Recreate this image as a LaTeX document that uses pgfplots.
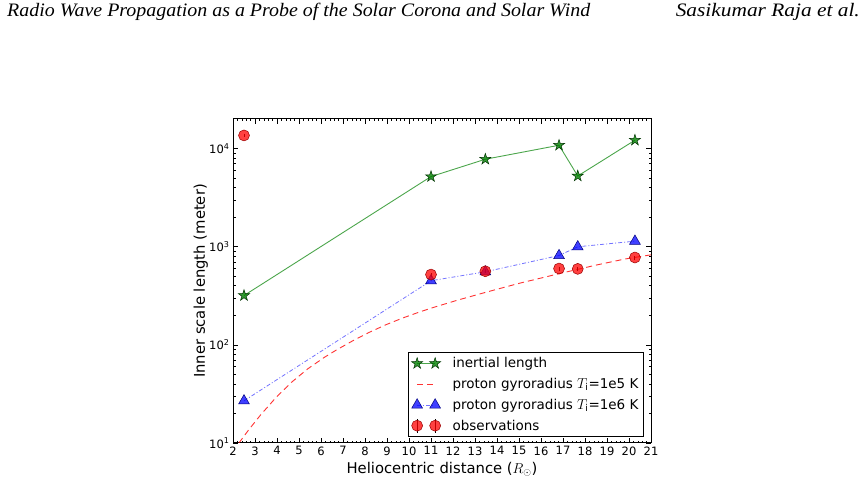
\documentclass[border=0pt]{standalone}
\usepackage{pgfplots}
\pgfplotsset{compat=1.18}
\usepackage{graphicx}
\usepackage{fontspec}
\setmainfont{DejaVu Sans}
\newfontfamily\headfont{Liberation Serif}

% filled five-pointed star
\pgfdeclareplotmark{fstar}{%
  \pgfpathmoveto{\pgfpointpolar{90}{\pgfplotmarksize}}%
  \pgfpathlineto{\pgfpointpolar{126}{0.382\pgfplotmarksize}}%
  \pgfpathlineto{\pgfpointpolar{162}{\pgfplotmarksize}}%
  \pgfpathlineto{\pgfpointpolar{198}{0.382\pgfplotmarksize}}%
  \pgfpathlineto{\pgfpointpolar{234}{\pgfplotmarksize}}%
  \pgfpathlineto{\pgfpointpolar{270}{0.382\pgfplotmarksize}}%
  \pgfpathlineto{\pgfpointpolar{306}{\pgfplotmarksize}}%
  \pgfpathlineto{\pgfpointpolar{342}{0.382\pgfplotmarksize}}%
  \pgfpathlineto{\pgfpointpolar{18}{\pgfplotmarksize}}%
  \pgfpathlineto{\pgfpointpolar{54}{0.382\pgfplotmarksize}}%
  \pgfpathclose
  \pgfusepathqfillstroke
}

\definecolor{mgreen}{rgb}{0,0.5,0}
\definecolor{mred}{rgb}{1,0,0}
\definecolor{mblue}{rgb}{0,0,1}

\pgfplotsset{
  two marks legend/.style={legend image code/.code={%
    \draw[##1] plot coordinates {(0bp,0bp) (18bp,0bp)};
    \path (-4bp,0bp) (33bp,0bp);}},
  short line legend/.style={legend image code/.code={%
    \draw[##1] (0bp,0bp) -- (18bp,0bp);
    \path (-4bp,0bp) (33bp,0bp);}},
  errorbar legend/.style={legend image code/.code={%
    \draw[black, line width=1bp] (0bp,-7bp) -- (0bp,7bp) (18bp,-7bp) -- (18bp,7bp);
    \draw[##1] plot coordinates {(0bp,0bp) (18bp,0bp)};
    \path (-4bp,0bp) (33bp,0bp);}},
}

% inertial length (m)
\pgfplotstableread{
r     L
2.5   318
11.0  5180
13.47 7780
16.82 10800
17.67 5250
20.27 12160
}\inertial

% proton gyroradius, T_i = 1e5 K
\pgfplotstableread{
r     L
2.27  10
2.7   13.5
3.27  19.5
3.95  29.0
4.64  41.2
5.39  56.8
6.15  74.5
6.68  88.1
7.44  109.9
8.2   134.3
8.95  160.3
9.71  187.5
10.47 215.8
11.08 239.3
12.2  285
13.5  343.6
15.0  423
16.82 530.9
18.5  649
19.8  748
21.0  826
}\gyrolow

% proton gyroradius, T_i = 1e6 K
\pgfplotstableread{
r     L
2.5   26.9
11.0  450
13.47 555
16.82 813
17.67 998
20.27 1138
}\gyrohigh

% observed inner scale
\pgfplotstableread{
r     L      e
2.5   13600  600
11.0  520    24
13.47 562    26
16.82 599    28
17.67 594    28
20.27 776    36
}\observed

\begin{document}
\begin{tikzpicture}[x=1bp,y=1bp]
\path (0,0) rectangle (868,485);
\node[anchor=base west, inner sep=0] at (7,468)
  {\resizebox{583bp}{\height}{\headfont\itshape\fontsize{19bp}{22bp}\selectfont Radio Wave Propagation as a Probe of the Solar Corona and Solar Wind}};
\node[anchor=base east, inner sep=0] at (860,468)
  {\resizebox{184bp}{\height}{\headfont\itshape\fontsize{19bp}{22bp}\selectfont Sasikumar Raja et al.}};
\begin{axis}[
  at={(233bp,42bp)}, anchor=south west,
  width=418bp, height=324bp, scale only axis,
  xmin=2, xmax=21, ymin=10, ymax=20000,
  ymode=log,
  xtick={2,...,21},
  minor x tick num=4,
  ytick={10,100,1000,10000},
  yticklabels={10\textsuperscript{1},10\textsuperscript{2},10\textsuperscript{3},10\textsuperscript{4}},
  tick align=inside,
  major tick length=5bp, minor tick length=2.5bp,
  every tick/.style={black, line width=0.6bp},
  axis line style={line width=1bp},
  /pgf/number format/assume math mode=true,
  ticklabel style={font=\fontsize{11.5bp}{13bp}\selectfont},
  xlabel={Heliocentric distance ($R_\odot$)},
  ylabel={Inner scale length (meter)},
  label style={font=\fontsize{14.8bp}{17bp}\selectfont},
  xlabel style={at={(axis description cs:0.5,-0.0586)}, anchor=north, inner sep=0},
  ylabel style={at={(axis description cs:-0.067,0.5)}, anchor=base, inner sep=0},
  legend cell align=left,
  legend style={at={(axis description cs:0.983,0.0185)}, anchor=south east,
    draw=black, line width=0.9bp, font=\fontsize{13.5bp}{16bp}\selectfont,
    inner xsep=3bp, inner ysep=3bp, row sep=5bp},
]
\addplot[mgreen!70!white, line width=0.9bp, mark=fstar, mark size=5.8bp,
  mark options={fill=mgreen, draw=black!60!mgreen, line width=0.5bp, fill opacity=0.8},
  two marks legend]
  table[x=r, y=L] {\inertial};
\addlegendentry{inertial length}

\addplot[mred, opacity=0.8, line width=0.9bp, dash pattern=on 6bp off 4bp, no marks,
  short line legend]
  table[x=r, y=L] {\gyrolow};
\addlegendentry{proton gyroradius $T_\mathrm{i}$=1e5 K}

\addplot[mblue!55!white, line width=0.8bp, dash pattern=on 4bp off 2bp on 1bp off 2bp,
  mark=triangle*, mark size=6.2bp,
  mark options={solid, fill=mblue, fill opacity=0.75, draw=black!50!mblue, line width=0.5bp},
  two marks legend]
  table[x=r, y=L] {\gyrohigh};
\addlegendentry{proton gyroradius $T_\mathrm{i}$=1e6 K}

\addplot[only marks, mark=*, mark size=5.5bp,
  mark options={fill=mred, fill opacity=0.75, draw=black!40!mred, line width=0.5bp},
  errorbar legend,
  error bars/.cd, y dir=both, y explicit,
  error bar style={black, line width=1bp}, error mark=none]
  table[x=r, y=L, y error=e] {\observed};
\addlegendentry{observations}
\end{axis}
\end{tikzpicture}
\end{document}
